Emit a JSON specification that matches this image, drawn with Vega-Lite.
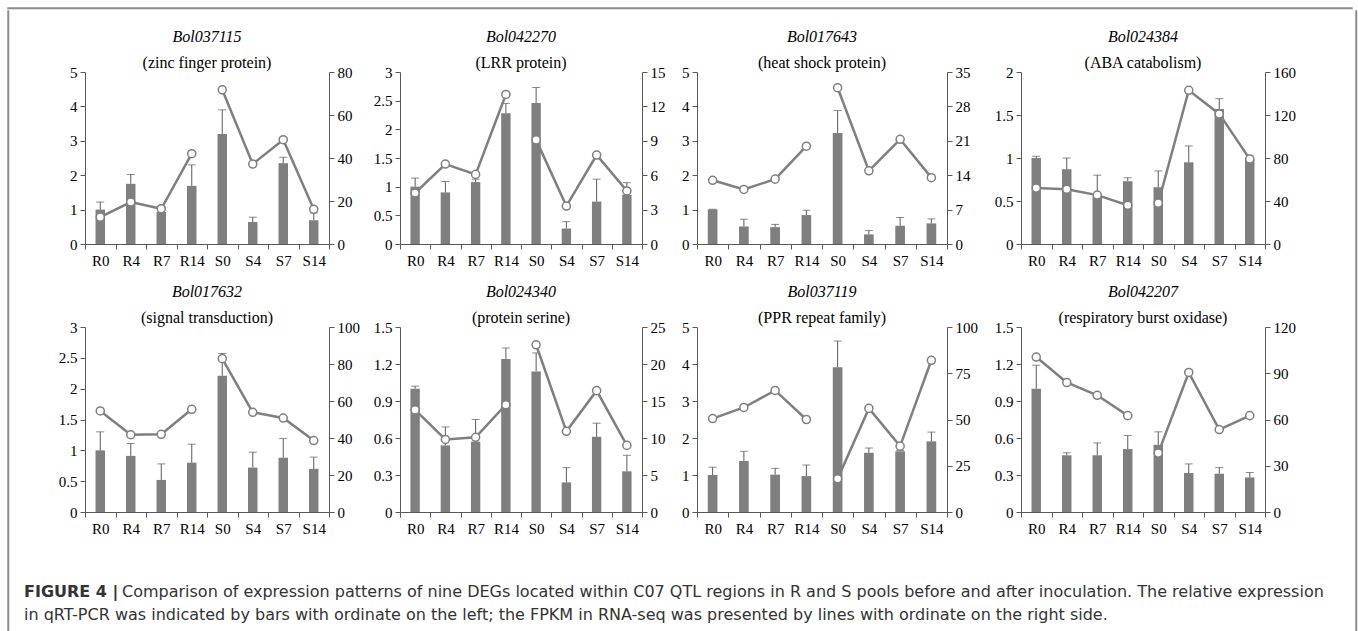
{
  "$schema": "https://vega.github.io/schema/vega-lite/v6.json",
  "background": "white",
  "padding": {"left": 7, "top": 7, "right": 0, "bottom": 0},
  "config": {
    "view": {"stroke": null},
    "axis": {"grid": false, "domainColor": "#595959", "tickColor": "#595959", "labelFont": "Liberation Serif", "labelFontSize": 15, "labelColor": "#000000", "tickSize": 5, "domainWidth": 1, "tickWidth": 1},
    "axisX": {"labelAngle": 0, "tickBand": "extent", "labelPadding": 4},
    "axisY": {"labelPadding": 3},
    "title": {"font": "Liberation Serif", "fontSize": 16, "fontStyle": "italic", "fontWeight": "normal", "color": "#000000", "subtitleFont": "Liberation Serif", "subtitleFontSize": 16, "subtitleColor": "#000000", "subtitlePadding": 10, "offset": -6, "anchor": "middle"}
  },
  "spacing": 0,
  "vconcat": [
    {
      "width": 1344, "height": 0.5,
      "data": {"values": []},
      "mark": {"type": "rule"},
      "encoding": {},
      "view": {"stroke": "#8c8c8c", "strokeWidth": 1.5}
    },
    {
      "spacing": 14,
      "hconcat": [
        {
          "width": 0.5, "height": 630,
          "data": {"values": []},
          "mark": {"type": "rule"},
          "encoding": {},
          "view": {"stroke": "#8c8c8c", "strokeWidth": 1.5}
        },
        {
          "spacing": 0,
          "vconcat": [
            {
              "width": 1, "height": 18,
              "data": {"values": []},
              "mark": {"type": "rule"},
              "encoding": {}
            },
            {
              "spacing": 44,
              "vconcat": [
                {
                  "data": {"name": "expr"},
                  "spacing": 16,
                  "hconcat": [
                    {
                      "columns": 2,
                      "bounds": "flush",
                      "spacing": {"row": 83, "column": 71},
                      "concat": [
                        {
                          "width": 244, "height": 172,
                          "title": {"text": "Bol037115", "subtitle": "(zinc finger protein)"},
                          "transform": [{"filter": "datum.gene === 'Bol037115'"}],
                          "encoding": {"x": {"field": "t", "type": "nominal", "sort": ["R0","R4","R7","R14","S0","S4","S7","S14"], "scale": {"paddingInner": 0, "paddingOuter": 0}, "title": null}},
                          "layer": [
                            {"encoding": {"y": {"type": "quantitative", "scale": {"domain": [0, 5], "nice": false}, "axis": {"orient": "left", "values": [0,1,2,3,4,5], "format": "~f"}, "title": null}},
                             "layer": [
                              {"mark": {"type": "bar", "color": "#7f7f7f", "width": {"band": 0.31}}, "encoding": {"y": {"field": "bar", "type": "quantitative", "title": null}}},
                              {"mark": {"type": "rule", "color": "#5a5a5a", "strokeWidth": 1}, "encoding": {"y": {"field": "bar", "type": "quantitative", "title": null}, "y2": {"field": "hi"}}},
                              {"mark": {"type": "tick", "orient": "horizontal", "color": "#5a5a5a", "size": 8, "thickness": 1}, "encoding": {"y": {"field": "hi", "type": "quantitative", "title": null}}}
                            ]},
                            {"encoding": {"y": {"field": "fpkm", "type": "quantitative", "scale": {"domain": [0, 80], "nice": false}, "axis": {"orient": "right", "values": [0,20,40,60,80], "format": "~f"}, "title": null}},
                             "layer": [
                              {"mark": {"type": "line", "color": "#7f7f7f", "strokeWidth": 2.5}, "encoding": {"detail": {"field": "grp"}}},
                              {"mark": {"type": "point", "shape": "circle", "filled": true, "fill": "white", "stroke": "#7f7f7f", "strokeWidth": 1.5, "size": 65, "opacity": 1}}
                            ]}
                          ],
                          "resolve": {"scale": {"y": "independent"}}
                        },
                        {
                          "width": 242, "height": 172,
                          "title": {"text": "Bol042270", "subtitle": "(LRR protein)"},
                          "transform": [{"filter": "datum.gene === 'Bol042270'"}],
                          "encoding": {"x": {"field": "t", "type": "nominal", "sort": ["R0","R4","R7","R14","S0","S4","S7","S14"], "scale": {"paddingInner": 0, "paddingOuter": 0}, "title": null}},
                          "layer": [
                            {"encoding": {"y": {"type": "quantitative", "scale": {"domain": [0, 3], "nice": false}, "axis": {"orient": "left", "values": [0,0.5,1,1.5,2,2.5,3], "format": "~f"}, "title": null}},
                             "layer": [
                              {"mark": {"type": "bar", "color": "#7f7f7f", "width": {"band": 0.31}}, "encoding": {"y": {"field": "bar", "type": "quantitative", "title": null}}},
                              {"mark": {"type": "rule", "color": "#5a5a5a", "strokeWidth": 1}, "encoding": {"y": {"field": "bar", "type": "quantitative", "title": null}, "y2": {"field": "hi"}}},
                              {"mark": {"type": "tick", "orient": "horizontal", "color": "#5a5a5a", "size": 8, "thickness": 1}, "encoding": {"y": {"field": "hi", "type": "quantitative", "title": null}}}
                            ]},
                            {"encoding": {"y": {"field": "fpkm", "type": "quantitative", "scale": {"domain": [0, 15], "nice": false}, "axis": {"orient": "right", "values": [0,3,6,9,12,15], "format": "~f"}, "title": null}},
                             "layer": [
                              {"mark": {"type": "line", "color": "#7f7f7f", "strokeWidth": 2.5}, "encoding": {"detail": {"field": "grp"}}},
                              {"mark": {"type": "point", "shape": "circle", "filled": true, "fill": "white", "stroke": "#7f7f7f", "strokeWidth": 1.5, "size": 65, "opacity": 1}}
                            ]}
                          ],
                          "resolve": {"scale": {"y": "independent"}}
                        },
                        {
                          "width": 244, "height": 185,
                          "title": {"text": "Bol017632", "subtitle": "(signal transduction)"},
                          "transform": [{"filter": "datum.gene === 'Bol017632'"}],
                          "encoding": {"x": {"field": "t", "type": "nominal", "sort": ["R0","R4","R7","R14","S0","S4","S7","S14"], "scale": {"paddingInner": 0, "paddingOuter": 0}, "title": null}},
                          "layer": [
                            {"encoding": {"y": {"type": "quantitative", "scale": {"domain": [0, 3], "nice": false}, "axis": {"orient": "left", "values": [0,0.5,1,1.5,2,2.5,3], "format": "~f"}, "title": null}},
                             "layer": [
                              {"mark": {"type": "bar", "color": "#7f7f7f", "width": {"band": 0.31}}, "encoding": {"y": {"field": "bar", "type": "quantitative", "title": null}}},
                              {"mark": {"type": "rule", "color": "#5a5a5a", "strokeWidth": 1}, "encoding": {"y": {"field": "bar", "type": "quantitative", "title": null}, "y2": {"field": "hi"}}},
                              {"mark": {"type": "tick", "orient": "horizontal", "color": "#5a5a5a", "size": 8, "thickness": 1}, "encoding": {"y": {"field": "hi", "type": "quantitative", "title": null}}}
                            ]},
                            {"encoding": {"y": {"field": "fpkm", "type": "quantitative", "scale": {"domain": [0, 100], "nice": false}, "axis": {"orient": "right", "values": [0,20,40,60,80,100], "format": "~f"}, "title": null}},
                             "layer": [
                              {"mark": {"type": "line", "color": "#7f7f7f", "strokeWidth": 2.5}, "encoding": {"detail": {"field": "grp"}}},
                              {"mark": {"type": "point", "shape": "circle", "filled": true, "fill": "white", "stroke": "#7f7f7f", "strokeWidth": 1.5, "size": 65, "opacity": 1}}
                            ]}
                          ],
                          "resolve": {"scale": {"y": "independent"}}
                        },
                        {
                          "width": 242, "height": 185,
                          "title": {"text": "Bol024340", "subtitle": "(protein serine)"},
                          "transform": [{"filter": "datum.gene === 'Bol024340'"}],
                          "encoding": {"x": {"field": "t", "type": "nominal", "sort": ["R0","R4","R7","R14","S0","S4","S7","S14"], "scale": {"paddingInner": 0, "paddingOuter": 0}, "title": null}},
                          "layer": [
                            {"encoding": {"y": {"type": "quantitative", "scale": {"domain": [0, 1.5], "nice": false}, "axis": {"orient": "left", "values": [0,0.3,0.6,0.9,1.2,1.5], "format": "~f"}, "title": null}},
                             "layer": [
                              {"mark": {"type": "bar", "color": "#7f7f7f", "width": {"band": 0.31}}, "encoding": {"y": {"field": "bar", "type": "quantitative", "title": null}}},
                              {"mark": {"type": "rule", "color": "#5a5a5a", "strokeWidth": 1}, "encoding": {"y": {"field": "bar", "type": "quantitative", "title": null}, "y2": {"field": "hi"}}},
                              {"mark": {"type": "tick", "orient": "horizontal", "color": "#5a5a5a", "size": 8, "thickness": 1}, "encoding": {"y": {"field": "hi", "type": "quantitative", "title": null}}}
                            ]},
                            {"encoding": {"y": {"field": "fpkm", "type": "quantitative", "scale": {"domain": [0, 25], "nice": false}, "axis": {"orient": "right", "values": [0,5,10,15,20,25], "format": "~f"}, "title": null}},
                             "layer": [
                              {"mark": {"type": "line", "color": "#7f7f7f", "strokeWidth": 2.5}, "encoding": {"detail": {"field": "grp"}}},
                              {"mark": {"type": "point", "shape": "circle", "filled": true, "fill": "white", "stroke": "#7f7f7f", "strokeWidth": 1.5, "size": 65, "opacity": 1}}
                            ]}
                          ],
                          "resolve": {"scale": {"y": "independent"}}
                        }
                      ]
                    },
                    {
                      "columns": 2,
                      "bounds": "flush",
                      "spacing": {"row": 83, "column": 74},
                      "concat": [
                        {
                          "width": 250, "height": 172,
                          "title": {"text": "Bol017643", "subtitle": "(heat shock protein)"},
                          "transform": [{"filter": "datum.gene === 'Bol017643'"}],
                          "encoding": {"x": {"field": "t", "type": "nominal", "sort": ["R0","R4","R7","R14","S0","S4","S7","S14"], "scale": {"paddingInner": 0, "paddingOuter": 0}, "title": null}},
                          "layer": [
                            {"encoding": {"y": {"type": "quantitative", "scale": {"domain": [0, 5], "nice": false}, "axis": {"orient": "left", "values": [0,1,2,3,4,5], "format": "~f"}, "title": null}},
                             "layer": [
                              {"mark": {"type": "bar", "color": "#7f7f7f", "width": {"band": 0.31}}, "encoding": {"y": {"field": "bar", "type": "quantitative", "title": null}}},
                              {"mark": {"type": "rule", "color": "#5a5a5a", "strokeWidth": 1}, "encoding": {"y": {"field": "bar", "type": "quantitative", "title": null}, "y2": {"field": "hi"}}},
                              {"mark": {"type": "tick", "orient": "horizontal", "color": "#5a5a5a", "size": 8, "thickness": 1}, "encoding": {"y": {"field": "hi", "type": "quantitative", "title": null}}}
                            ]},
                            {"encoding": {"y": {"field": "fpkm", "type": "quantitative", "scale": {"domain": [0, 35], "nice": false}, "axis": {"orient": "right", "values": [0,7,14,21,28,35], "format": "~f"}, "title": null}},
                             "layer": [
                              {"mark": {"type": "line", "color": "#7f7f7f", "strokeWidth": 2.5}, "encoding": {"detail": {"field": "grp"}}},
                              {"mark": {"type": "point", "shape": "circle", "filled": true, "fill": "white", "stroke": "#7f7f7f", "strokeWidth": 1.5, "size": 65, "opacity": 1}}
                            ]}
                          ],
                          "resolve": {"scale": {"y": "independent"}}
                        },
                        {
                          "width": 244, "height": 172,
                          "title": {"text": "Bol024384", "subtitle": "(ABA catabolism)"},
                          "transform": [{"filter": "datum.gene === 'Bol024384'"}],
                          "encoding": {"x": {"field": "t", "type": "nominal", "sort": ["R0","R4","R7","R14","S0","S4","S7","S14"], "scale": {"paddingInner": 0, "paddingOuter": 0}, "title": null}},
                          "layer": [
                            {"encoding": {"y": {"type": "quantitative", "scale": {"domain": [0, 2], "nice": false}, "axis": {"orient": "left", "values": [0,0.5,1,1.5,2], "format": "~f"}, "title": null}},
                             "layer": [
                              {"mark": {"type": "bar", "color": "#7f7f7f", "width": {"band": 0.31}}, "encoding": {"y": {"field": "bar", "type": "quantitative", "title": null}}},
                              {"mark": {"type": "rule", "color": "#5a5a5a", "strokeWidth": 1}, "encoding": {"y": {"field": "bar", "type": "quantitative", "title": null}, "y2": {"field": "hi"}}},
                              {"mark": {"type": "tick", "orient": "horizontal", "color": "#5a5a5a", "size": 8, "thickness": 1}, "encoding": {"y": {"field": "hi", "type": "quantitative", "title": null}}}
                            ]},
                            {"encoding": {"y": {"field": "fpkm", "type": "quantitative", "scale": {"domain": [0, 160], "nice": false}, "axis": {"orient": "right", "values": [0,40,80,120,160], "format": "~f"}, "title": null}},
                             "layer": [
                              {"mark": {"type": "line", "color": "#7f7f7f", "strokeWidth": 2.5}, "encoding": {"detail": {"field": "grp"}}},
                              {"mark": {"type": "point", "shape": "circle", "filled": true, "fill": "white", "stroke": "#7f7f7f", "strokeWidth": 1.5, "size": 65, "opacity": 1}}
                            ]}
                          ],
                          "resolve": {"scale": {"y": "independent"}}
                        },
                        {
                          "width": 250, "height": 185,
                          "title": {"text": "Bol037119", "subtitle": "(PPR repeat family)"},
                          "transform": [{"filter": "datum.gene === 'Bol037119'"}],
                          "encoding": {"x": {"field": "t", "type": "nominal", "sort": ["R0","R4","R7","R14","S0","S4","S7","S14"], "scale": {"paddingInner": 0, "paddingOuter": 0}, "title": null}},
                          "layer": [
                            {"encoding": {"y": {"type": "quantitative", "scale": {"domain": [0, 5], "nice": false}, "axis": {"orient": "left", "values": [0,1,2,3,4,5], "format": "~f"}, "title": null}},
                             "layer": [
                              {"mark": {"type": "bar", "color": "#7f7f7f", "width": {"band": 0.31}}, "encoding": {"y": {"field": "bar", "type": "quantitative", "title": null}}},
                              {"mark": {"type": "rule", "color": "#5a5a5a", "strokeWidth": 1}, "encoding": {"y": {"field": "bar", "type": "quantitative", "title": null}, "y2": {"field": "hi"}}},
                              {"mark": {"type": "tick", "orient": "horizontal", "color": "#5a5a5a", "size": 8, "thickness": 1}, "encoding": {"y": {"field": "hi", "type": "quantitative", "title": null}}}
                            ]},
                            {"encoding": {"y": {"field": "fpkm", "type": "quantitative", "scale": {"domain": [0, 100], "nice": false}, "axis": {"orient": "right", "values": [0,25,50,75,100], "format": "~f"}, "title": null}},
                             "layer": [
                              {"mark": {"type": "line", "color": "#7f7f7f", "strokeWidth": 2.5}, "encoding": {"detail": {"field": "grp"}}},
                              {"mark": {"type": "point", "shape": "circle", "filled": true, "fill": "white", "stroke": "#7f7f7f", "strokeWidth": 1.5, "size": 65, "opacity": 1}}
                            ]}
                          ],
                          "resolve": {"scale": {"y": "independent"}}
                        },
                        {
                          "width": 244, "height": 185,
                          "title": {"text": "Bol042207", "subtitle": "(respiratory burst oxidase)"},
                          "transform": [{"filter": "datum.gene === 'Bol042207'"}],
                          "encoding": {"x": {"field": "t", "type": "nominal", "sort": ["R0","R4","R7","R14","S0","S4","S7","S14"], "scale": {"paddingInner": 0, "paddingOuter": 0}, "title": null}},
                          "layer": [
                            {"encoding": {"y": {"type": "quantitative", "scale": {"domain": [0, 1.5], "nice": false}, "axis": {"orient": "left", "values": [0,0.3,0.6,0.9,1.2,1.5], "format": "~f"}, "title": null}},
                             "layer": [
                              {"mark": {"type": "bar", "color": "#7f7f7f", "width": {"band": 0.31}}, "encoding": {"y": {"field": "bar", "type": "quantitative", "title": null}}},
                              {"mark": {"type": "rule", "color": "#5a5a5a", "strokeWidth": 1}, "encoding": {"y": {"field": "bar", "type": "quantitative", "title": null}, "y2": {"field": "hi"}}},
                              {"mark": {"type": "tick", "orient": "horizontal", "color": "#5a5a5a", "size": 8, "thickness": 1}, "encoding": {"y": {"field": "hi", "type": "quantitative", "title": null}}}
                            ]},
                            {"encoding": {"y": {"field": "fpkm", "type": "quantitative", "scale": {"domain": [0, 120], "nice": false}, "axis": {"orient": "right", "values": [0,30,60,90,120], "format": "~f"}, "title": null}},
                             "layer": [
                              {"mark": {"type": "line", "color": "#7f7f7f", "strokeWidth": 2.5}, "encoding": {"detail": {"field": "grp"}}},
                              {"mark": {"type": "point", "shape": "circle", "filled": true, "fill": "white", "stroke": "#7f7f7f", "strokeWidth": 1.5, "size": 65, "opacity": 1}}
                            ]}
                          ],
                          "resolve": {"scale": {"y": "independent"}}
                        }
                      ]
                    }
                  ]
                },
                {
                  "width": 1256, "height": 46,
                  "data": {"values": [
                    {"line": 1, "part": "b", "txt": "FIGURE 4 |"},
                    {"line": 1, "part": "r", "txt": "Comparison of expression patterns of nine DEGs located within C07 QTL regions in R and S pools before and after inoculation. The relative expression"},
                    {"line": 2, "part": "r2", "txt": "in qRT-PCR was indicated by bars with ordinate on the left; the FPKM in RNA-seq was presented by lines with ordinate on the right side."}
                  ]},
                  "encoding": {"y": {"field": "line", "type": "ordinal", "axis": null, "scale": {"padding": 0.5}}, "text": {"field": "txt"}},
                  "layer": [
                    {"transform": [{"filter": "datum.part === 'b'"}], "mark": {"type": "text", "align": "left", "baseline": "middle", "x": 0, "dx": -61, "font": "DejaVu Sans", "fontWeight": "bold", "fontSize": 16, "color": "#333333"}},
                    {"transform": [{"filter": "datum.part === 'r'"}], "mark": {"type": "text", "align": "left", "baseline": "middle", "x": 0, "dx": 37, "font": "DejaVu Sans", "fontSize": 16, "color": "#333333"}},
                    {"transform": [{"filter": "datum.part === 'r2'"}], "mark": {"type": "text", "align": "left", "baseline": "middle", "x": 0, "dx": -61, "font": "DejaVu Sans", "fontSize": 16, "color": "#333333"}}
                  ]
                }
              ]
            }
          ]
        },
        {
          "width": 0.5, "height": 630,
          "data": {"values": []},
          "mark": {"type": "rule"},
          "encoding": {},
          "view": {"stroke": "#8c8c8c", "strokeWidth": 1.5}
        }
      ]
    }
  ],
  "datasets": {
    "expr": [
      {"gene": "Bol037115", "t": "R0", "grp": "R", "bar": 1.0, "hi": 1.22, "fpkm": 12.5},
      {"gene": "Bol037115", "t": "R4", "grp": "R", "bar": 1.75, "hi": 2.02, "fpkm": 19.5},
      {"gene": "Bol037115", "t": "R7", "grp": "R", "bar": 0.93, "hi": 0.98, "fpkm": 16.4},
      {"gene": "Bol037115", "t": "R14", "grp": "R", "bar": 1.69, "hi": 2.3, "fpkm": 42},
      {"gene": "Bol037115", "t": "S0", "grp": "S", "bar": 3.2, "hi": 3.9, "fpkm": 71.7},
      {"gene": "Bol037115", "t": "S4", "grp": "S", "bar": 0.64, "hi": 0.78, "fpkm": 37.2},
      {"gene": "Bol037115", "t": "S7", "grp": "S", "bar": 2.35, "hi": 2.52, "fpkm": 48.5},
      {"gene": "Bol037115", "t": "S14", "grp": "S", "bar": 0.69, "hi": 0.9, "fpkm": 16.2},

      {"gene": "Bol042270", "t": "R0", "grp": "R", "bar": 1.0, "hi": 1.15, "fpkm": 4.45},
      {"gene": "Bol042270", "t": "R4", "grp": "R", "bar": 0.9, "hi": 1.09, "fpkm": 6.97},
      {"gene": "Bol042270", "t": "R7", "grp": "R", "bar": 1.08, "hi": 1.13, "fpkm": 6.07},
      {"gene": "Bol042270", "t": "R14", "grp": "R", "bar": 2.28, "hi": 2.45, "fpkm": 13.04},
      {"gene": "Bol042270", "t": "S0", "grp": "S", "bar": 2.46, "hi": 2.73, "fpkm": 9.08},
      {"gene": "Bol042270", "t": "S4", "grp": "S", "bar": 0.27, "hi": 0.39, "fpkm": 3.31},
      {"gene": "Bol042270", "t": "S7", "grp": "S", "bar": 0.74, "hi": 1.13, "fpkm": 7.76},
      {"gene": "Bol042270", "t": "S14", "grp": "S", "bar": 0.86, "hi": 1.07, "fpkm": 4.63},

      {"gene": "Bol017643", "t": "R0", "grp": "R", "bar": 1.0, "hi": 1.01, "fpkm": 12.97},
      {"gene": "Bol017643", "t": "R4", "grp": "R", "bar": 0.51, "hi": 0.72, "fpkm": 11.1},
      {"gene": "Bol017643", "t": "R7", "grp": "R", "bar": 0.49, "hi": 0.57, "fpkm": 13.2},
      {"gene": "Bol017643", "t": "R14", "grp": "R", "bar": 0.84, "hi": 0.98, "fpkm": 19.9},
      {"gene": "Bol017643", "t": "S0", "grp": "S", "bar": 3.23, "hi": 3.88, "fpkm": 31.8},
      {"gene": "Bol017643", "t": "S4", "grp": "S", "bar": 0.28, "hi": 0.39, "fpkm": 14.9},
      {"gene": "Bol017643", "t": "S7", "grp": "S", "bar": 0.53, "hi": 0.77, "fpkm": 21.3},
      {"gene": "Bol017643", "t": "S14", "grp": "S", "bar": 0.6, "hi": 0.73, "fpkm": 13.5},

      {"gene": "Bol024384", "t": "R0", "grp": "R", "bar": 1.0, "hi": 1.02, "fpkm": 52},
      {"gene": "Bol024384", "t": "R4", "grp": "R", "bar": 0.87, "hi": 1.0, "fpkm": 51},
      {"gene": "Bol024384", "t": "R7", "grp": "R", "bar": 0.55, "hi": 0.8, "fpkm": 45.5},
      {"gene": "Bol024384", "t": "R14", "grp": "R", "bar": 0.73, "hi": 0.77, "fpkm": 36},
      {"gene": "Bol024384", "t": "S0", "grp": "S", "bar": 0.66, "hi": 0.85, "fpkm": 38},
      {"gene": "Bol024384", "t": "S4", "grp": "S", "bar": 0.95, "hi": 1.14, "fpkm": 143},
      {"gene": "Bol024384", "t": "S7", "grp": "S", "bar": 1.57, "hi": 1.69, "fpkm": 121},
      {"gene": "Bol024384", "t": "S14", "grp": "S", "bar": 0.99, "hi": 1.03, "fpkm": 79},

      {"gene": "Bol017632", "t": "R0", "grp": "R", "bar": 1.0, "hi": 1.3, "fpkm": 54.6},
      {"gene": "Bol017632", "t": "R4", "grp": "R", "bar": 0.91, "hi": 1.11, "fpkm": 41.8},
      {"gene": "Bol017632", "t": "R7", "grp": "R", "bar": 0.52, "hi": 0.78, "fpkm": 42.0},
      {"gene": "Bol017632", "t": "R14", "grp": "R", "bar": 0.8, "hi": 1.1, "fpkm": 55.5},
      {"gene": "Bol017632", "t": "S0", "grp": "S", "bar": 2.21, "hi": 2.57, "fpkm": 82.9},
      {"gene": "Bol017632", "t": "S4", "grp": "S", "bar": 0.72, "hi": 0.97, "fpkm": 53.9},
      {"gene": "Bol017632", "t": "S7", "grp": "S", "bar": 0.88, "hi": 1.19, "fpkm": 50.8},
      {"gene": "Bol017632", "t": "S14", "grp": "S", "bar": 0.7, "hi": 0.89, "fpkm": 38.6},

      {"gene": "Bol024340", "t": "R0", "grp": "R", "bar": 1.0, "hi": 1.02, "fpkm": 13.8},
      {"gene": "Bol024340", "t": "R4", "grp": "R", "bar": 0.54, "hi": 0.69, "fpkm": 9.8},
      {"gene": "Bol024340", "t": "R7", "grp": "R", "bar": 0.57, "hi": 0.75, "fpkm": 10.1},
      {"gene": "Bol024340", "t": "R14", "grp": "R", "bar": 1.24, "hi": 1.33, "fpkm": 14.5},
      {"gene": "Bol024340", "t": "S0", "grp": "S", "bar": 1.14, "hi": 1.29, "fpkm": 22.6},
      {"gene": "Bol024340", "t": "S4", "grp": "S", "bar": 0.24, "hi": 0.36, "fpkm": 10.9},
      {"gene": "Bol024340", "t": "S7", "grp": "S", "bar": 0.61, "hi": 0.72, "fpkm": 16.4},
      {"gene": "Bol024340", "t": "S14", "grp": "S", "bar": 0.33, "hi": 0.46, "fpkm": 9.0},

      {"gene": "Bol037119", "t": "R0", "grp": "R", "bar": 1.0, "hi": 1.21, "fpkm": 50.5},
      {"gene": "Bol037119", "t": "R4", "grp": "R", "bar": 1.38, "hi": 1.64, "fpkm": 56.5},
      {"gene": "Bol037119", "t": "R7", "grp": "R", "bar": 1.01, "hi": 1.18, "fpkm": 65.7},
      {"gene": "Bol037119", "t": "R14", "grp": "R", "bar": 0.97, "hi": 1.27, "fpkm": 50},
      {"gene": "Bol037119", "t": "S0", "grp": "S", "bar": 3.91, "hi": 4.62, "fpkm": 18},
      {"gene": "Bol037119", "t": "S4", "grp": "S", "bar": 1.6, "hi": 1.73, "fpkm": 56},
      {"gene": "Bol037119", "t": "S7", "grp": "S", "bar": 1.64, "hi": 1.66, "fpkm": 35.6},
      {"gene": "Bol037119", "t": "S14", "grp": "S", "bar": 1.91, "hi": 2.16, "fpkm": 82},

      {"gene": "Bol042207", "t": "R0", "grp": "R", "bar": 1.0, "hi": 1.19, "fpkm": 100.5},
      {"gene": "Bol042207", "t": "R4", "grp": "R", "bar": 0.46, "hi": 0.48, "fpkm": 84},
      {"gene": "Bol042207", "t": "R7", "grp": "R", "bar": 0.46, "hi": 0.56, "fpkm": 75.7},
      {"gene": "Bol042207", "t": "R14", "grp": "R", "bar": 0.51, "hi": 0.62, "fpkm": 62.5},
      {"gene": "Bol042207", "t": "S0", "grp": "S", "bar": 0.545, "hi": 0.65, "fpkm": 38.2},
      {"gene": "Bol042207", "t": "S4", "grp": "S", "bar": 0.316, "hi": 0.39, "fpkm": 90.5},
      {"gene": "Bol042207", "t": "S7", "grp": "S", "bar": 0.31, "hi": 0.36, "fpkm": 53.5},
      {"gene": "Bol042207", "t": "S14", "grp": "S", "bar": 0.28, "hi": 0.32, "fpkm": 62.5}
    ]
  }
}
